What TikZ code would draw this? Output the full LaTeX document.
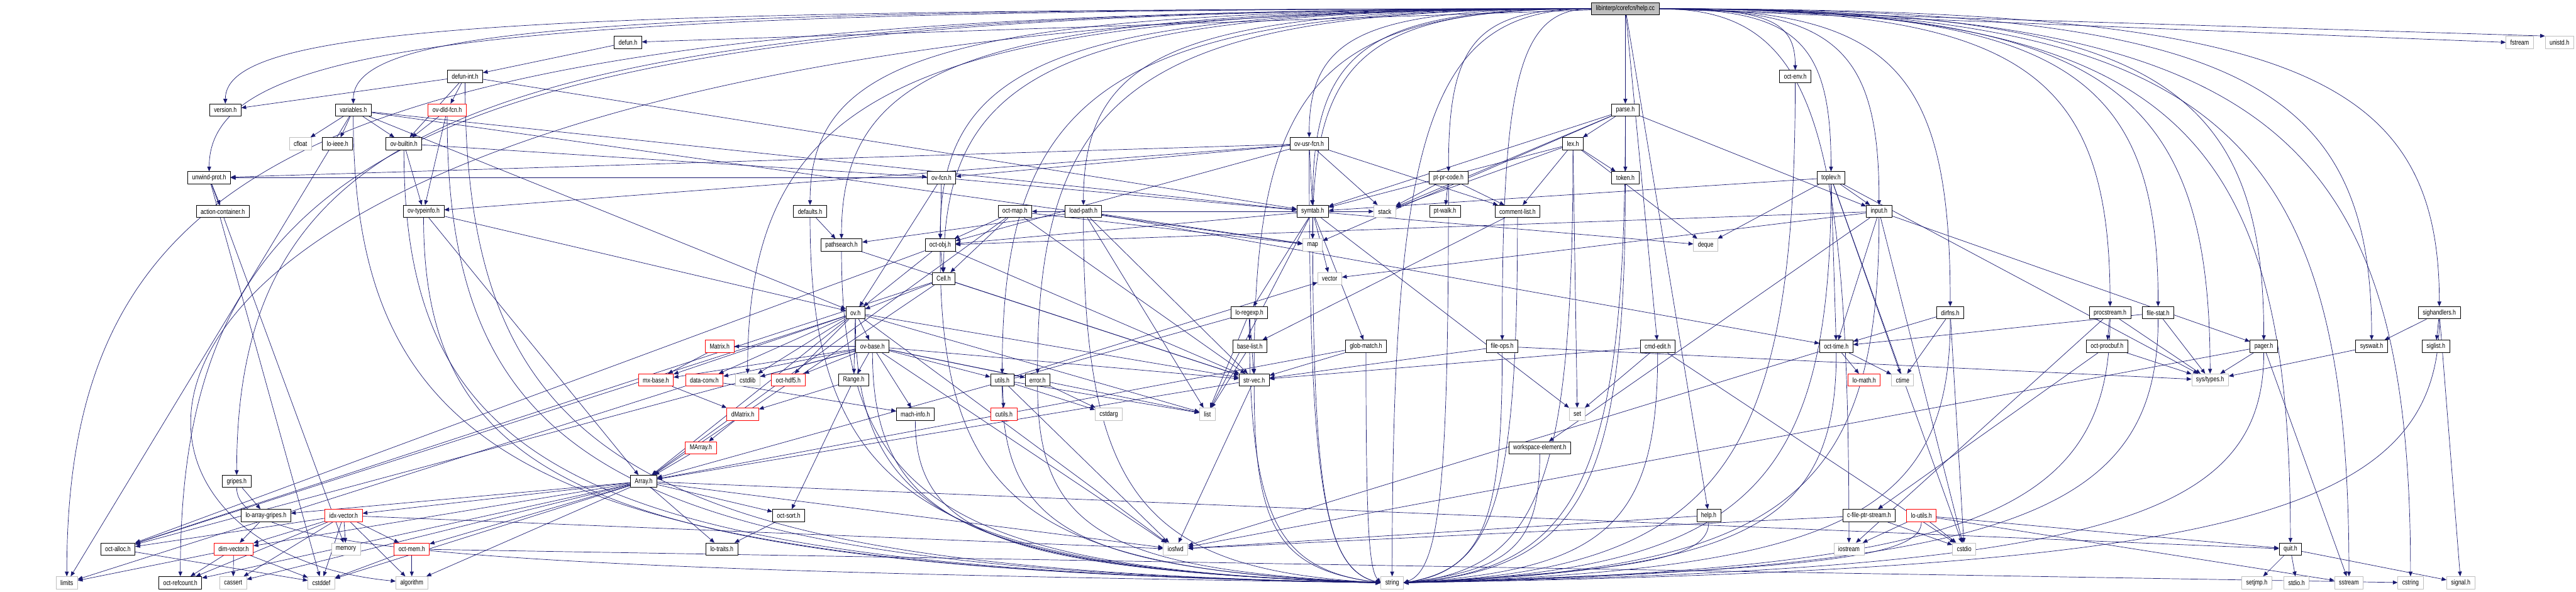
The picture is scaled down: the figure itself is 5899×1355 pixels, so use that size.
\documentclass[tikz,border=0pt]{standalone}
\usepackage{fontspec}
\setmainfont[FakeStretch=0.8]{Liberation Sans}
\usetikzlibrary{arrows.meta,calc}
\definecolor{edgeblue}{HTML}{191970}
\definecolor{sysgray}{HTML}{BFBFBF}
\pgfdeclarelayer{bg}
\pgfsetlayers{bg,main}
\tikzset{
  every picture/.style={line join=round},
  hdr/.style={draw=black, fill=white, line width=0.6pt, inner xsep=5pt, inner ysep=0pt, minimum height=14pt, font=\fontsize{8}{9}\selectfont},
  sys/.style={hdr, draw=sysgray},
  trunc/.style={hdr, draw=red},
  rootbox/.style={hdr, fill=sysgray},
  dep/.style={draw=edgeblue, line width=0.5pt, -{Triangle[length=5.5pt,width=4.5pt]}},
}

\begin{document}
\begin{tikzpicture}[x=0.5pt,y=-0.5pt]
\useasboundingbox (0,0) rectangle (5899,1355);
\coordinate (lane) at (0,1296);
% headers, row by row
\node[rootbox] (root) at (3722,20) {libinterp/corefcn/help.cc};
\node[hdr] (defun) at (1438,97) {defun.h};
\node[sys] (fstream) at (5770,97) {fstream};
\node[sys] (unistd) at (5861,97) {unistd.h};
\node[hdr] (defunint) at (1065,175) {defun-int.h};
\node[hdr] (octenv) at (4111,175) {oct-env.h};
\node[hdr] (version) at (516,252) {version.h};
\node[hdr] (variables) at (809,252) {variables.h};
\node[trunc] (ovdld) at (1024,252) {ov-dld-fcn.h};
\node[hdr] (parse) at (3722,252) {parse.h};
\node[sys] (cfloat) at (688,329) {cfloat};
\node[hdr] (loieee) at (773,329) {lo-ieee.h};
\node[hdr] (ovbuiltin) at (925,329) {ov-builtin.h};
\node[hdr] (ovusr) at (2998,329) {ov-usr-fcn.h};
\node[hdr] (lex) at (3602,329) {lex.h};
\node[hdr] (unwind) at (479,407) {unwind-prot.h};
\node[hdr] (ovfcn) at (2156,407) {ov-fcn.h};
\node[hdr] (ptprcode) at (3317,407) {pt-pr-code.h};
\node[hdr] (token) at (3722,407) {token.h};
\node[hdr] (toplev) at (4193,407) {toplev.h};
\node[hdr] (actcont) at (510,484) {action-container.h};
\node[hdr] (ovtypeinfo) at (970,484) {ov-typeinfo.h};
\node[hdr] (defaults) at (1855,484) {defaults.h};
\node[hdr] (octmap) at (2324,484) {oct-map.h};
\node[hdr] (loadpath) at (2481,484) {load-path.h};
\node[hdr] (symtab) at (3006,484) {symtab.h};
\node[sys] (stack) at (3171,484) {stack};
\node[hdr] (ptwalk) at (3309,484) {pt-walk.h};
\node[hdr] (commentlist) at (3475,484) {comment-list.h};
\node[hdr] (input) at (4303,484) {input.h};
\node[hdr] (pathsearch) at (1927,561) {pathsearch.h};
\node[hdr] (octobj) at (2153,561) {oct-obj.h};
\node[sys] (map) at (3006,561) {map};
\node[sys] (deque) at (3906,561) {deque};
\node[hdr] (cell) at (2161,638) {Cell.h};
\node[sys] (vector) at (3045,638) {vector};
\node[hdr] (ov) at (1959,716) {ov.h};
\node[hdr] (loregexp) at (2861,716) {lo-regexp.h};
\node[hdr] (dirfns) at (4466,716) {dirfns.h};
\node[hdr] (procstream) at (4832,716) {procstream.h};
\node[hdr] (filestat) at (4942,716) {file-stat.h};
\node[hdr] (sighandlers) at (5586,716) {sighandlers.h};
\node[trunc] (matrix) at (1648,793) {Matrix.h};
\node[hdr] (ovbase) at (1998,793) {ov-base.h};
\node[hdr] (baselist) at (2862,793) {base-list.h};
\node[hdr] (globmatch) at (3128,793) {glob-match.h};
\node[hdr] (fileops) at (3440,793) {file-ops.h};
\node[hdr] (cmdedit) at (3796,793) {cmd-edit.h};
\node[hdr] (octtime) at (4205,793) {oct-time.h};
\node[hdr] (octprocbuf) at (4825,793) {oct-procbuf.h};
\node[hdr] (pager) at (5184,793) {pager.h};
\node[hdr] (syswait) at (5431,793) {syswait.h};
\node[hdr] (siglist) at (5578,793) {siglist.h};
\node[trunc] (mxbase) at (1502,870) {mx-base.h};
\node[trunc] (dataconv) at (1613,870) {data-conv.h};
\node[sys] (cstdlib) at (1712,870) {cstdlib};
\node[trunc] (octhdf5) at (1805,870) {oct-hdf5.h};
\node[hdr] (range) at (1955,870) {Range.h};
\node[hdr] (utils) at (2295,870) {utils.h};
\node[hdr] (error) at (2376,870) {error.h};
\node[hdr] (strvec) at (2872,870) {str-vec.h};
\node[trunc] (lomath) at (4269,870) {lo-math.h};
\node[sys] (ctime) at (4357,870) {ctime};
\node[sys] (systypes) at (5061,870) {sys/types.h};
\node[trunc] (dmatrix) at (1701,948) {dMatrix.h};
\node[hdr] (machinfo) at (2096,948) {mach-info.h};
\node[trunc] (cutils) at (2299,948) {cutils.h};
\node[sys] (cstdarg) at (2539,948) {cstdarg};
\node[sys] (list) at (2765,948) {list};
\node[sys] (set) at (3612,948) {set};
\node[trunc] (marray) at (1605,1025) {MArray.h};
\node[hdr] (workspace) at (3526,1025) {workspace-element.h};
\node[hdr] (gripes) at (542,1102) {gripes.h};
\node[hdr] (array) at (1474,1102) {Array.h};
\node[hdr] (loarraygripes) at (609,1180) {lo-array-gripes.h};
\node[trunc] (idxvector) at (787,1180) {idx-vector.h};
\node[hdr] (octsort) at (1806,1180) {oct-sort.h};
\node[hdr] (helph) at (3913,1180) {help.h};
\node[hdr] (cfileptr) at (4280,1180) {c-file-ptr-stream.h};
\node[trunc] (loutils) at (4400,1180) {lo-utils.h};
\node[hdr] (octalloc) at (270,1257) {oct-alloc.h};
\node[trunc] (dimvector) at (535,1257) {dim-vector.h};
\node[sys] (memory) at (792,1257) {memory};
\node[trunc] (octmem) at (943,1257) {oct-mem.h};
\node[hdr] (lotraits) at (1653,1257) {lo-traits.h};
\node[sys] (iosfwd) at (2692,1257) {iosfwd};
\node[sys] (iostream) at (4234,1257) {iostream};
\node[sys] (cstdio) at (4498,1257) {cstdio};
\node[hdr] (quit) at (5245,1257) {quit.h};
\node[sys] (limits) at (153,1334) {limits};
\node[hdr] (octrefcount) at (413,1334) {oct-refcount.h};
\node[sys] (cassert) at (534,1334) {cassert};
\node[sys] (cstddef) at (736,1334) {cstddef};
\node[sys] (algorithm) at (943,1334) {algorithm};
\node[sys] (string) at (3188,1334) {string};
\node[sys] (setjmp) at (5168,1334) {setjmp.h};
\node[sys] (stdioh) at (5259,1334) {stdio.h};
\node[sys] (sstream) at (5379,1334) {sstream};
\node[sys] (cstring) at (5520,1334) {cstring};
\node[sys] (signalh) at (5635,1334) {signal.h};

\begin{pgfonlayer}{bg}
% includes of help.cc
\foreach \t in {version,variables,unwind,gripes,limits,octrefcount,defaults,pathsearch,octobj,cell,loadpath,ovusr,symtab,ptprcode,strvec,error,utils,cstdlib,map,fileops,string}
  \draw[dep] (root.west) .. controls ($(root.west)!0.8!(\t.north |- root.west)$) and ($(\t.north)!0.8!(\t.north |- root.west)$) .. (\t.north);
\foreach \t in {octenv,toplev,input,dirfns,procstream,filestat,sighandlers,pager,syswait,systypes,quit,sstream,cstring,iostream}
  \draw[dep] (root.east) .. controls ($(root.east)!0.8!(\t.north |- root.east)$) and ($(\t.north)!0.8!(\t.north |- root.east)$) .. (\t.north);
\foreach \t in {defun,parse,cmdedit,helph} \draw[dep] (root) -- (\t);
\draw[dep] (root.east) -- (fstream.west);
\draw[dep] (root.east) -- (unistd.north west);
\draw[dep] (root.west) .. controls (55,20) and (55,1250) .. (algorithm);
% the rest
\foreach \t in {defunint} \draw[dep] (defun) -- (\t);
\foreach \t in {ovdld,version,ovbuiltin,symtab} \draw[dep] (defunint) -- (\t);
\foreach \t in {ovbuiltin,ovtypeinfo} \draw[dep] (ovdld) -- (\t);
\foreach \t in {cfloat,loieee,ovbuiltin,limits,symtab,ov,map} \draw[dep] (variables) -- (\t);
\foreach \t in {ovtypeinfo,ovfcn} \draw[dep] (ovbuiltin) -- (\t);
\foreach \t in {ov,array} \draw[dep] (ovtypeinfo) -- (\t);
\foreach \t in {actcont,cstddef,memory} \draw[dep] (unwind) -- (\t);
\foreach \t in {pathsearch} \draw[dep] (defaults) -- (\t);
\foreach \t in {strvec} \draw[dep] (pathsearch) -- (\t);
\foreach \t in {ovfcn,commentlist,symtab,stack,unwind,octobj,ovtypeinfo} \draw[dep] (ovusr) -- (\t);
\foreach \t in {octobj,symtab,ov,unwind} \draw[dep] (ovfcn) -- (\t);
\foreach \t in {octobj,cell,map,strvec,array} \draw[dep] (octmap) -- (\t);
\foreach \t in {pathsearch,map,list,strvec,octtime} \draw[dep] (loadpath) -- (\t);
\foreach \t in {octmap,map,stack,vector,deque,set,list,loregexp,globmatch,octobj} \draw[dep] (symtab) -- (\t);
\foreach \t in {lex,token,symtab,stack,map,input} \draw[dep] (parse) -- (\t);
\foreach \t in {token,commentlist,stack,deque,symtab,set} \draw[dep] (lex) -- (\t);
\foreach \t in {stack,ptwalk,commentlist} \draw[dep] (ptprcode) -- (\t);
\foreach \t in {baselist} \draw[dep] (commentlist) -- (\t);
\foreach \t in {input,deque,symtab,cstdio,octtime,ctime,systypes} \draw[dep] (toplev) -- (\t);
\foreach \t in {cstdio,octtime,octobj,pager,workspace,vector} \draw[dep] (input) -- (\t);
\foreach \t in {cell,ov,octalloc,strvec} \draw[dep] (octobj) -- (\t);
\foreach \t in {array,octalloc,strvec,ov} \draw[dep] (cell) -- (\t);
\foreach \t in {ovbase,range,octhdf5,cstdlib,mxbase,dataconv,array,strvec,iosfwd,octalloc,list} \draw[dep] (ov) -- (\t);
\foreach \t in {matrix,mxbase,dataconv,cstdlib,octhdf5,range,machinfo,utils,error,strvec,list,iosfwd,octalloc} \draw[dep] (ovbase) -- (\t);
\foreach \t in {mxbase} \draw[dep] (matrix) -- (\t);
\foreach \t in {dmatrix} \draw[dep] (mxbase) -- (\t);
\foreach \t in {marray} \draw[dep] (dmatrix) -- (\t);
\foreach \t in {array} \draw[dep] (marray) -- (\t);
\foreach \t in {dmatrix,octsort} \draw[dep] (range) -- (\t);
\foreach \t in {machinfo,limits} \draw[dep] (dataconv) -- (\t);
\foreach \t in {octsort,lotraits,idxvector,dimvector,loarraygripes,octrefcount,cassert,cstddef,algorithm,iosfwd,octmem,quit} \draw[dep] (array) -- (\t);
\foreach \t in {lotraits} \draw[dep] (octsort) -- (\t);
\foreach \t in {loarraygripes} \draw[dep] (gripes) -- (\t);
\foreach \t in {dimvector} \draw[dep] (loarraygripes) -- (\t);
\foreach \t in {octalloc,dimvector,memory,octmem,octrefcount,cassert,cstddef,algorithm,iosfwd} \draw[dep] (idxvector) -- (\t);
\foreach \t in {cstddef} \draw[dep] (octalloc) -- (\t);
\foreach \t in {limits,octrefcount,cassert,cstddef} \draw[dep] (dimvector) -- (\t);
\foreach \t in {algorithm,cstddef,cstring} \draw[dep] (octmem) -- (\t);
\foreach \t in {baselist,strvec,list,array} \draw[dep] (loregexp) -- (\t);
\foreach \t in {list} \draw[dep] (baselist) -- (\t);
\foreach \t in {iosfwd,array} \draw[dep] (strvec) -- (\t);
\foreach \t in {cutils,cstdarg,list,iosfwd,vector} \draw[dep] (utils) -- (\t);
\foreach \t in {cstdarg} \draw[dep] (error) -- (\t);
\foreach \t in {strvec,array} \draw[dep] (globmatch) -- (\t);
\foreach \t in {strvec,systypes} \draw[dep] (fileops) -- (\t);
\foreach \t in {set,strvec,cstdio} \draw[dep] (cmdedit) -- (\t);
\foreach \t in {iosfwd} \draw[dep] (helph) -- (\t);
\foreach \t in {octtime,ctime,cstdio} \draw[dep] (dirfns) -- (\t);
\foreach \t in {octprocbuf,iostream,systypes} \draw[dep] (procstream) -- (\t);
\foreach \t in {octtime,systypes} \draw[dep] (filestat) -- (\t);
\foreach \t in {lomath,ctime,iosfwd} \draw[dep] (octtime) -- (\t);
\foreach \t in {cfileptr,systypes} \draw[dep] (octprocbuf) -- (\t);
\foreach \t in {cstdio,iosfwd} \draw[dep] (cfileptr) -- (\t);
\foreach \t in {iostream,cstdio,quit,sstream} \draw[dep] (loutils) -- (\t);
\foreach \t in {systypes,sstream,iosfwd} \draw[dep] (pager) -- (\t);
\foreach \t in {systypes} \draw[dep] (syswait) -- (\t);
\foreach \t in {syswait,siglist,signalh} \draw[dep] (sighandlers) -- (\t);
\foreach \t in {setjmp,stdioh,signalh} \draw[dep] (quit) -- (\t);
% <string> from both sides
\foreach \s in {defunint,ovdld,variables,ovbuiltin,ovtypeinfo,defaults,pathsearch,ovusr,loadpath,symtab,octobj,ov,ovbase,loregexp,strvec,utils,error,machinfo,globmatch,gripes}
  \draw[dep] (\s.south) .. controls ($(\s.south)!0.8!(\s.south |- lane)$) and ($(string.west)!0.8!(\s.south |- lane)$) .. (string.west);
\foreach \s in {parse,lex,ptprcode,token,commentlist,toplev,input,octenv,fileops,cmdedit,workspace,helph,dirfns,procstream,filestat,octtime,loutils,pager,sighandlers}
  \draw[dep] (\s.south) .. controls ($(\s.south)!0.8!(\s.south |- lane)$) and ($(string.east)!0.8!(\s.south |- lane)$) .. (string.east);
\end{pgfonlayer}
\end{tikzpicture}
\end{document}
